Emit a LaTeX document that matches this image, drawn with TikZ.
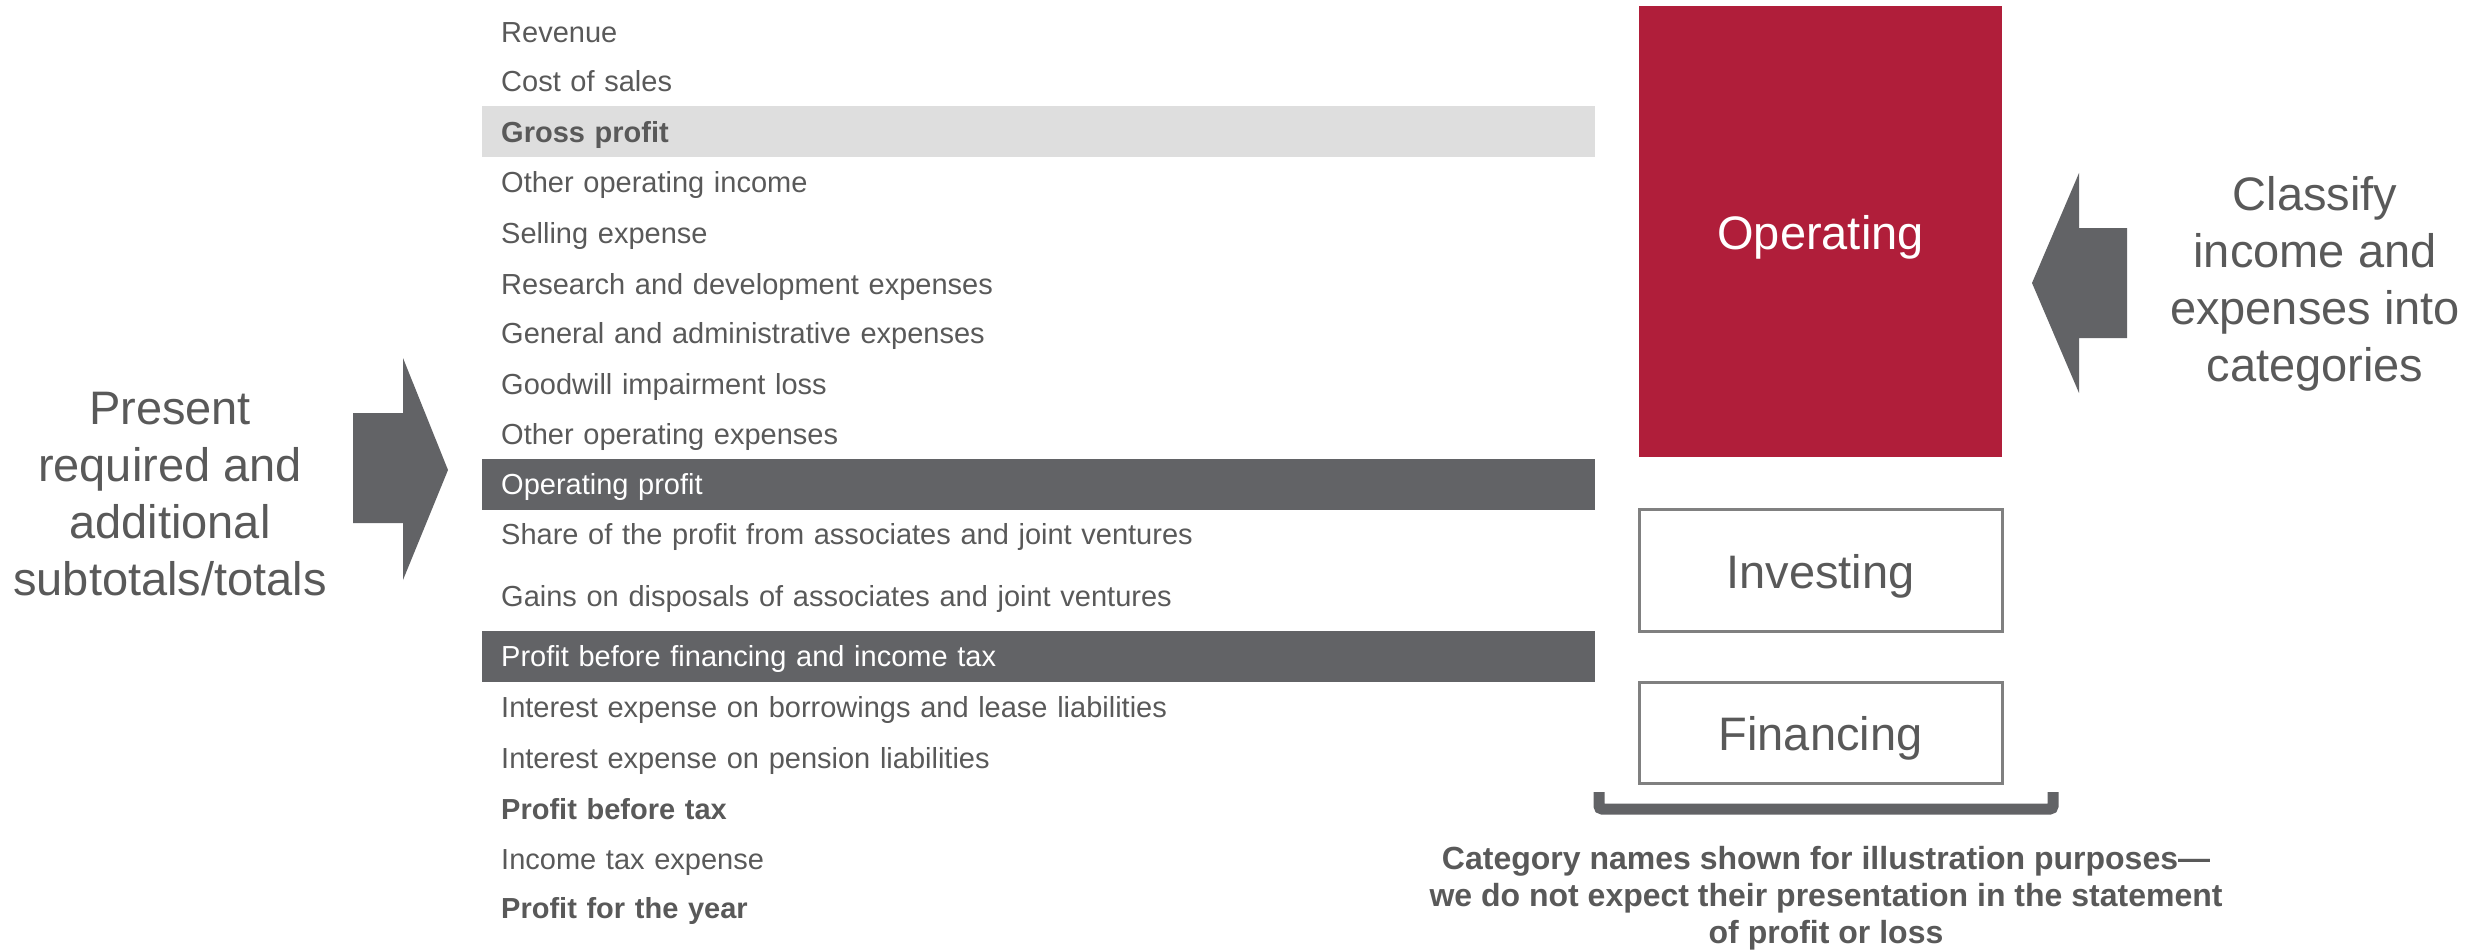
\documentclass[tikz,border=0pt]{standalone}
\usepackage{fontspec}
\setmainfont{Liberation Sans}
\usetikzlibrary{positioning}

\definecolor{txtgray}{RGB}{89,89,89}
\definecolor{darkband}{RGB}{98,99,102}
\definecolor{lightband}{RGB}{222,222,222}
\definecolor{oprred}{RGB}{176,30,58}
\definecolor{boxline}{RGB}{128,128,128}

\begin{document}
\begin{tikzpicture}[x=1pt,y=-1pt,every node/.style={text=txtgray},
		row/.style={anchor=west,minimum width=1113pt,minimum height=51pt,text width=1075pt,text height=21pt,text depth=0pt,inner xsep=19pt,inner ysep=0pt,align=left,font=\fontsize{29}{35}\selectfont},
		subtotal/.style={row,fill=darkband,text=white},
		grossband/.style={row,fill=lightband,font=\fontsize{29}{35}\selectfont\bfseries},
		bigtext/.style={align=center,font=\fontsize{47}{57}\selectfont},
		category/.style={minimum width=363pt,inner sep=0pt,text height=36pt,text depth=0pt,font=\fontsize{47}{57}\selectfont},
		blockarrow/.style={fill=darkband}]
	\useasboundingbox (0,0) rectangle (2486,952);

	% statement lines
	\node[row] (rev) at (482,32) {Revenue};
	\node[row] (cos) at (482,81) {Cost of sales};
	\node[grossband] (gp) at (482,132) {Gross profit};
	\node[row] (ooi) at (482,182) {Other operating income};
	\node[row] (sell) at (482,233) {Selling expense};
	\node[row] (rnd) at (482,284) {Research and development expenses};
	\node[row] (gna) at (482,333) {General and administrative expenses};
	\node[row] (gw) at (482,384) {Goodwill impairment loss};
	\node[row] (ooe) at (482,434) {Other operating expenses};
	\node[subtotal] (op) at (482,484) {Operating profit};
	\node[row] (share) at (482,534) {Share of the profit from associates and joint ventures};
	\node[row] (gains) at (482,596) {Gains on disposals of associates and joint ventures};
	\node[subtotal] (pbfit) at (482,656) {Profit before financing and income tax};
	\node[row] (intb) at (482,707) {Interest expense on borrowings and lease liabilities};
	\node[row] (intp) at (482,758) {Interest expense on pension liabilities};
	\node[row,font=\fontsize{29}{35}\selectfont\bfseries] (pbt) at (482,809) {Profit before tax};
	\node[row] (tax) at (482,859) {Income tax expense};
	\node[row,font=\fontsize{29}{35}\selectfont\bfseries] (pfy) at (482,908) {Profit for the year};

	% categories
	\node[category,fill=oprred,text=white,minimum height=451pt] (oper) at (1820.5,231.5) {Operating};
	\node[category,draw=boxline,line width=3pt,minimum height=122pt] (inv) at (1820.5,570) {Investing};
	\node[category,draw=boxline,line width=3pt,minimum height=101pt] (fin) at (1820.5,732.5) {Financing};

	% side notes and arrows
	\node[bigtext] (present) at (170,494) {Present\\required and\\additional\\subtotals/totals};
	\fill[blockarrow] (353,413) -- (403,413) -- (403,358) -- (448,470) -- (403,580) -- (403,523) -- (353,523) -- cycle;
	\node[bigtext] (classify) at (2315,284) {Classify\\income and\\expenses into\\categories};
	\fill[blockarrow] (2127,228) -- (2079,228) -- (2079,173) -- (2032,283) -- (2079,393) -- (2079,338) -- (2127,338) -- cycle;

	% bracket and note
	\coordinate (brl) at (1599,792);
	\coordinate (brr) at (2053,792);
	\draw[darkband,line width=11pt,rounded corners=3pt] (brl) -- ++(0,17) -| (brr);
	\node[align=center,font=\fontsize{32}{37}\selectfont\bfseries] (note) at (1826,898)
		{Category names shown for illustration purposes---\\we do not expect their presentation in the statement\\of profit or loss};
\end{tikzpicture}
\end{document}
